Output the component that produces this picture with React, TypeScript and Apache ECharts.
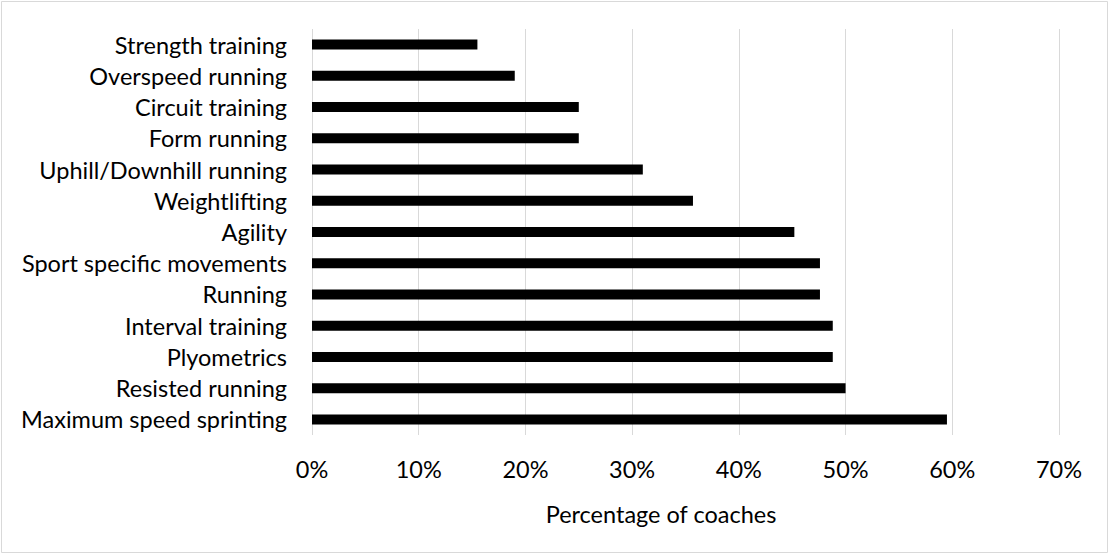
import React, { useEffect, useRef } from "react";
import * as echarts from "echarts";

// Training methods used by coaches (top to bottom)
const categories = [
  "Strength training",
  "Overspeed running",
  "Circuit training",
  "Form running",
  "Uphill/Downhill running",
  "Weightlifting",
  "Agility",
  "Sport specific movements",
  "Running",
  "Interval training",
  "Plyometrics",
  "Resisted running",
  "Maximum speed sprinting",
];

// Percentage of coaches using each method
const percentages = [15.5, 19.0, 25.0, 25.0, 31.0, 35.7, 45.2, 47.6, 47.6, 48.8, 48.8, 50.0, 59.5];

const axisTitle = "Percentage of coaches";

const FONT = "Lato, 'Noto Sans', sans-serif";
const TEXT_SIZE = 23.5;

export default function App() {
  const ref = useRef<HTMLDivElement>(null);

  useEffect(() => {
    if (!ref.current) return;
    const chart = echarts.init(ref.current, undefined, { renderer: "svg" });
    chart.setOption({
      animation: false,
      backgroundColor: "#ffffff",
      textStyle: { fontFamily: FONT, color: "#000000" },
      grid: { left: 312, right: 50, top: 29, bottom: 119, containLabel: false },
      xAxis: {
        type: "value",
        min: 0,
        max: 70,
        interval: 10,
        axisLine: { show: false },
        axisTick: { show: false },
        splitLine: { show: true, lineStyle: { color: "#d9d9d9", width: 1 } },
        axisLabel: {
          formatter: "{value}%",
          margin: 22,
          fontSize: TEXT_SIZE,
          fontFamily: FONT,
          color: "#000000",
        },
      },
      yAxis: {
        type: "category",
        data: categories,
        inverse: true,
        axisLine: { show: false },
        axisTick: { show: false },
        splitLine: { show: false },
        axisLabel: {
          margin: 25,
          fontSize: TEXT_SIZE,
          fontFamily: FONT,
          color: "#000000",
        },
      },
      series: [
        {
          type: "bar",
          data: percentages,
          barWidth: 10,
          itemStyle: { color: "#000000" },
        },
      ],
      graphic: [
        {
          type: "rect",
          shape: { x: 1.5, y: 1.5, width: 1106, height: 551 },
          style: { fill: "none", stroke: "#d9d9d9", lineWidth: 1 },
          silent: true,
        },
        {
          type: "text",
          x: 661,
          y: 514,
          style: {
            text: axisTitle,
            fontSize: TEXT_SIZE,
            fontFamily: FONT,
            fill: "#000000",
            align: "center",
            verticalAlign: "middle",
          },
        },
      ],
    });
    return () => chart.dispose();
  }, []);

  return (
    <div
      ref={ref}
      style={{ position: "fixed", left: 0, top: 0, width: 1109, height: 554 }}
    />
  );
}
